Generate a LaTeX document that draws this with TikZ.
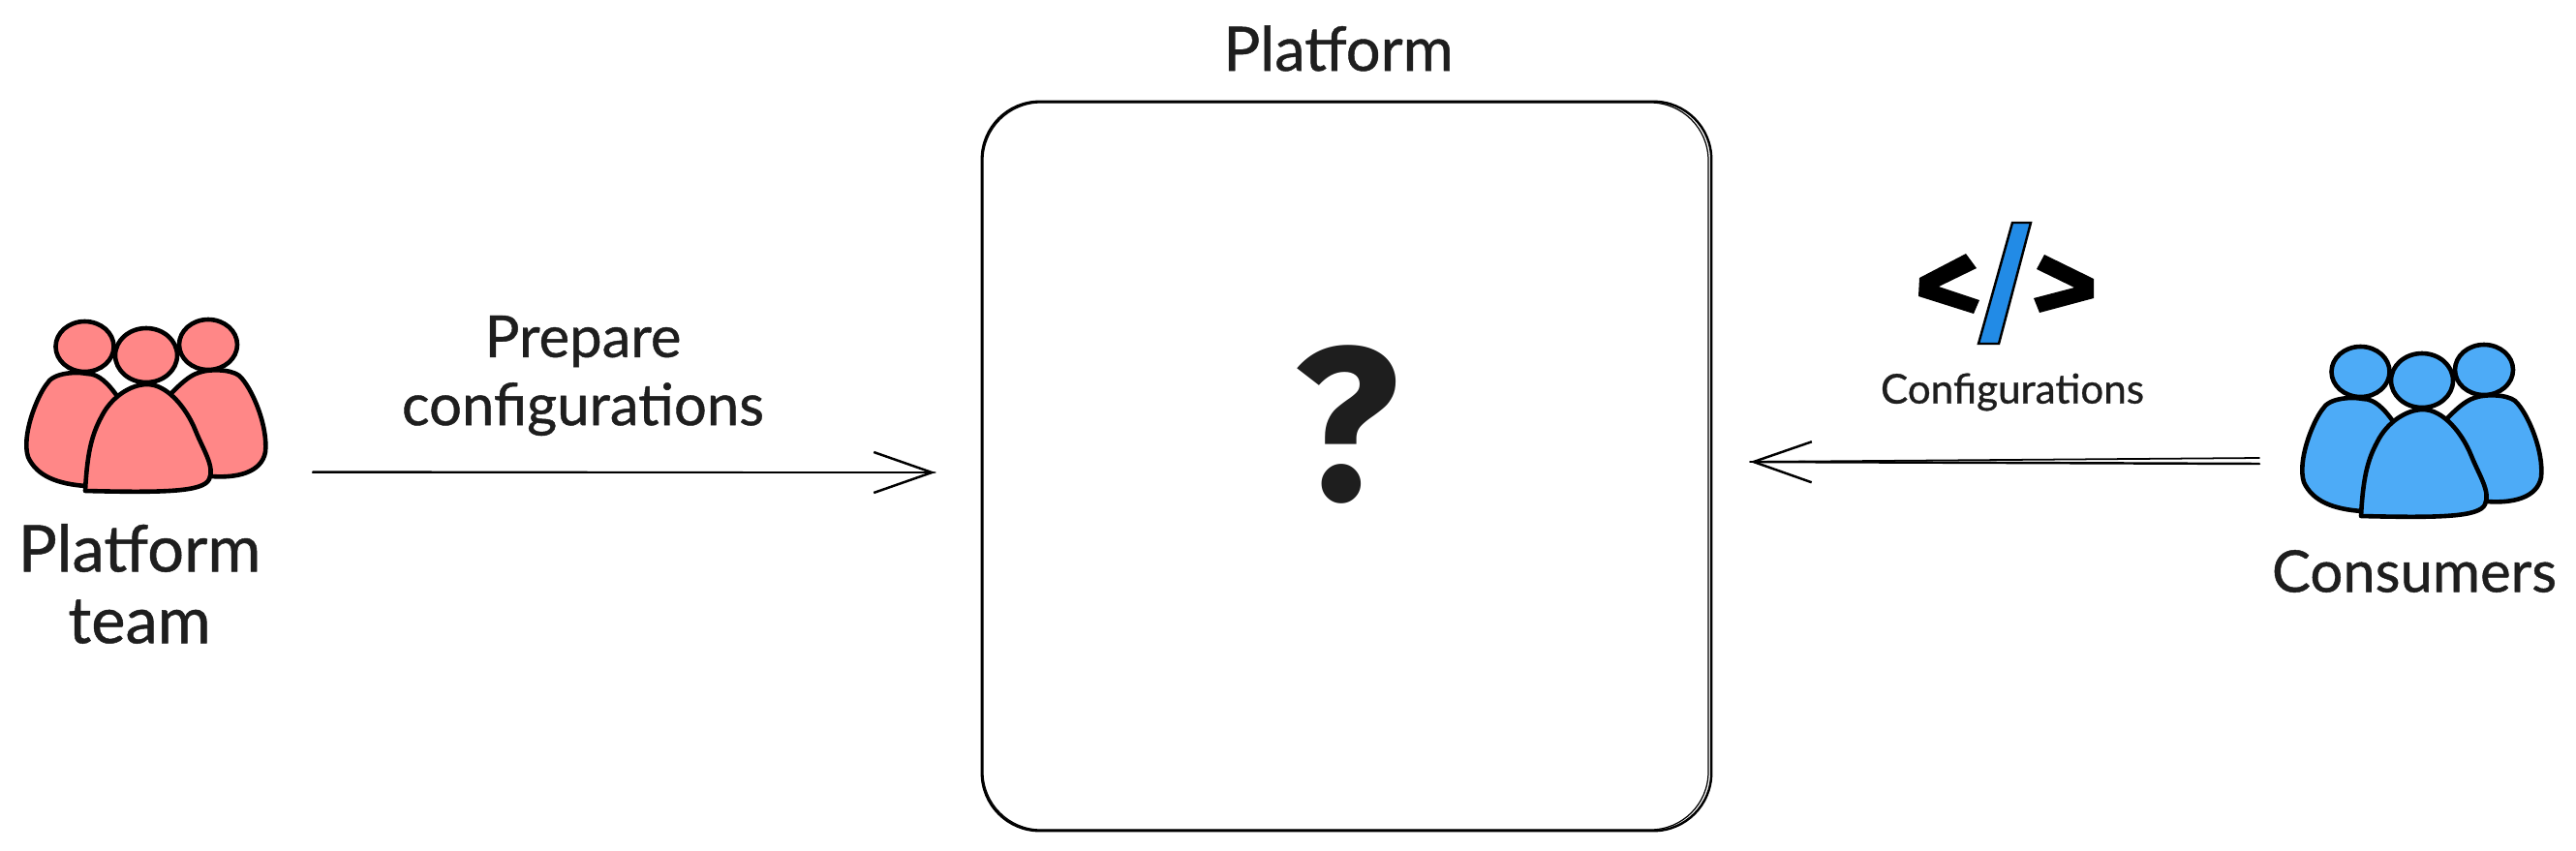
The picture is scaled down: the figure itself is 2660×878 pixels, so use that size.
\documentclass[tikz,border=0pt]{standalone}
\usepackage{fontspec}
\setmainfont{Lato}[FakeBold=0.7]
\newfontfamily\markfont{Fira Sans}
\usetikzlibrary{arrows.meta}
\definecolor{inkgray}{HTML}{1E1E1E}
\definecolor{teamred}{HTML}{FF8787}
\definecolor{userblue}{HTML}{4DABF7}
\definecolor{slashblue}{HTML}{228BE6}
\tikzset{
    person/.style={draw=black,line width=4.6*0.2845pt,line join=round},
    pics/people/.style={code={
        % side bodies
        \draw[person,fill=#1] (89,502) .. controls (60,500) and (38,492) .. (29,472)
            .. controls (22,450) and (38,410) .. (48,397)
            .. controls (55,384) and (80,384) .. (90,386)
            .. controls (102,386) and (112,396) .. (123,412) -- cycle;
        \draw[person,fill=#1] (218,492) .. controls (245,494) and (270,488) .. (274,467)
            .. controls (277,440) and (260,400) .. (247,388)
            .. controls (238,381) and (215,381) .. (205,385)
            .. controls (195,388) and (185,398) .. (175,408) -- cycle;
        % heads
        \draw[person,fill=#1] (87.5,358) ellipse [x radius=30,y radius=26];
        \draw[person,fill=#1] (215,356) ellipse [x radius=30,y radius=26];
        \draw[person,fill=#1] (151,367) ellipse [x radius=32,y radius=28];
        % front body
        \draw[person,fill=#1] (88,507) .. controls (90,470) and (94,450) .. (105,430)
            .. controls (115,410) and (135,397) .. (152,397)
            .. controls (172,397) and (192,420) .. (202,445)
            .. controls (210,465) and (222,482) .. (216,495)
            .. controls (210,508) and (170,509) .. (88,507) -- cycle;
    }}
}
\begin{document}
\begin{tikzpicture}[x=0.01cm,y=-0.01cm,line cap=round]
    \useasboundingbox (0,0) rectangle (2660,878);

    \tikzstyle{label}=[text=inkgray,align=center,inner sep=0pt]
    \tikzstyle{flow}=[draw=black,line width=0.7pt,-{Straight Barb[length=60*0.2845pt,width=42*0.2845pt,line width=0.7pt]}]

    % ============================
    % Platform box
    % ============================

    \node[draw=black,line width=0.7pt,rounded corners=17pt,minimum width=753*0.2845pt,
            minimum height=753*0.2845pt,inner sep=0pt] (platform) at (1390.5,481.5) {};
    \draw[black,line width=0.35pt,rounded corners=17pt] (1015,106) rectangle (1764,857);
    \node[label,font=\fontsize{18}{20}\selectfont] (platformlabel) at (1382,50) {Platform};
    \node[label,font=\markfont\bfseries\fontsize{64}{64}\selectfont] (question) at (1391,439) {?};

    % ============================
    % Left side: platform team
    % ============================

    \pic (team) at (0,0) {people=teamred};
    \node[label,font=\fontsize{19}{21}\selectfont] (teamlabel) at (144,603) {Platform\\team};
    \node[label,font=\fontsize{17}{20}\selectfont] (preparelabel) at (602,388) {Prepare\\configurations};
    \coordinate (prepstart) at (323,488);
    \coordinate (preptip) at (966,488);
    \draw[flow] (prepstart) -- (preptip);
    \draw[black,line width=0.4pt] (prepstart) ++(0,-1) -- (preptip);

    % ============================
    % Right side: consumers
    % ============================

    \pic (users) at (2350,26) {people=userblue};
    \node[label,font=\fontsize{17}{22}\selectfont] (userlabel) at (2493,590) {Consumers};
    \node[label,font=\fontsize{12}{16}\selectfont] (configlabel) at (2078,405) {Configurations};
    \coordinate (usestart) at (2333,479);
    \coordinate (usestarttop) at (2333,473);
    \coordinate (usetip) at (1807,477);
    \draw[flow] (usestart) -- (usetip);
    \draw[black,line width=0.5pt] (usestarttop) -- (usetip);

    % code sign
    \fill[black] (2030,262) -- (2041,277) -- (2002,296) -- (2044,310) -- (2038,324)
        -- (1981,306) -- (1982,287) -- cycle;
    \fill[black] (2111,263) -- (2162,288) -- (2162,308) -- (2106,323) -- (2100,308)
        -- (2142,297) -- (2103,278) -- cycle;
    \draw[black,line width=0.7pt,fill=slashblue] (2078,230) -- (2097,230) -- (2064,355)
        -- (2043,355) -- cycle;
\end{tikzpicture}
\end{document}
